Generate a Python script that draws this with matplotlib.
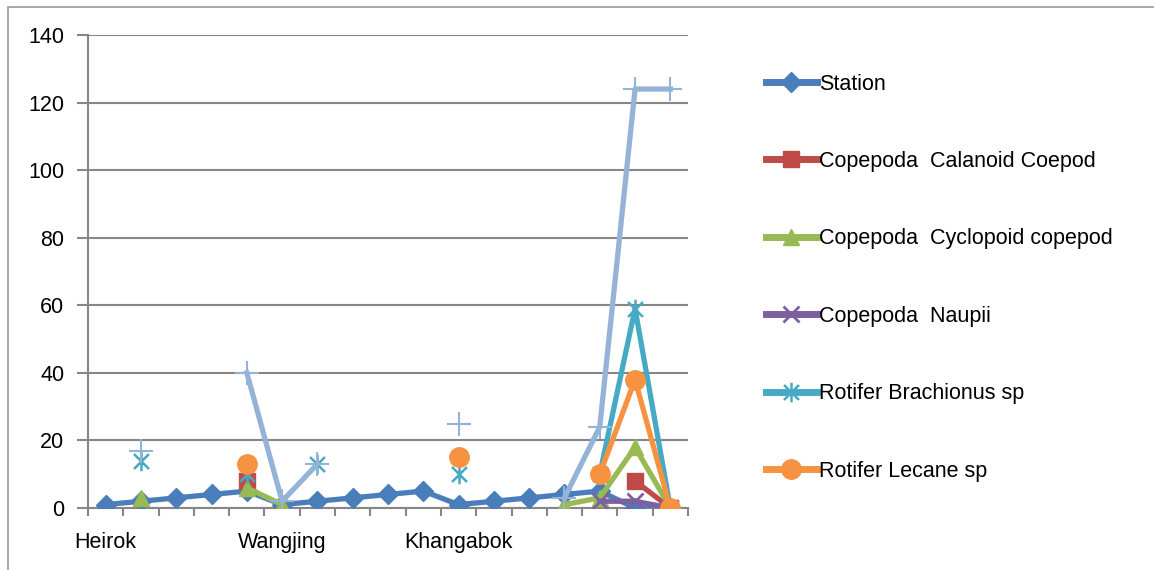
import numpy as np
import matplotlib
matplotlib.use("Agg")
import matplotlib.pyplot as plt
from matplotlib.patches import Rectangle
from matplotlib.path import Path

nan = np.nan

# 17 sampling points, only three named on the axis
positions = list(range(17))
tick_labels = ["Heirok", "", "", "", "", "Wangjing", "", "", "", "",
               "Khangabok", "", "", "", "", "", ""]

station = [1, 2, 3, 4, 5, 1, 2, 3, 4, 5, 1, 2, 3, 4, 5, 0, 0]
calanoid = [nan, nan, nan, nan, 8, nan, nan, nan, nan, nan, nan, nan, nan, nan, nan, 8, 0]
cyclopoid = [nan, 3, nan, nan, 6, 1, nan, nan, nan, nan, nan, nan, nan, 1, 3, 18, 0]
naupii = [nan, nan, nan, nan, nan, nan, nan, nan, nan, nan, nan, nan, nan, nan, 2, 2, 0]
brachionus = [nan, 14, nan, nan, 10, nan, 13, nan, nan, nan, 10, nan, nan, nan, 10, 59, 0]
lecane = [nan, nan, nan, nan, 13, nan, nan, nan, nan, nan, 15, nan, nan, nan, 10, 38, 0]
# seventh series, its legend entry is cut off in the original
series7 = [nan, 17, nan, nan, 40, 2, 13, nan, nan, nan, 25, nan, nan, 3, 24, 124, 124]

plt.rcParams['font.family'] = ['Liberation Sans', 'DejaVu Sans']

# excel-like star: an x with a vertical bar
star = Path([(-1, -1), (1, 1), (-1, 1), (1, -1), (0, -1.3), (0, 1.3)],
            [Path.MOVETO, Path.LINETO, Path.MOVETO, Path.LINETO, Path.MOVETO, Path.LINETO])

fig = plt.figure(figsize=(11.54, 5.70), dpi=100)
ax = fig.add_axes([88/1154, 1-508/570, 600/1154, (508-35)/570])

lw = 3.8
ax.plot(positions, station, color='#4A7EBB', lw=lw, marker='D', ms=10, label='Station', zorder=3)
ax.plot(positions, calanoid, color='#BE4B48', lw=lw, marker='s', ms=11,
        label='Copepoda  Calanoid Coepod', zorder=3)
ax.plot(positions, cyclopoid, color='#98B954', lw=lw, marker='^', ms=12,
        label='Copepoda  Cyclopoid copepod', zorder=3)
ax.plot(positions, naupii, color='#7D60A0', lw=lw, marker='x', ms=11, mew=2,
        label='Copepoda  Naupii', zorder=3)
ax.plot(positions, brachionus, color='#46AAC5', lw=lw, marker=star, ms=14, mew=1.8,
        label='Rotifer Brachionus sp', zorder=3)
ax.plot(positions, lecane, color='#F69240', lw=lw, marker='o', ms=14,
        label='Rotifer Lecane sp', zorder=3)
ax.plot(positions, series7, color='#95B3D7', lw=lw, marker='+', ms=17, mew=1.5,
        label='_series7', zorder=3)

ax.set_xlim(-0.5, 16.5)
ax.set_ylim(0, 140)
ax.set_yticks(range(0, 141, 20))
ax.yaxis.grid(True, color='#868686', lw=1.5)
ax.set_axisbelow(True)

ax.set_xticks(positions)
ax.set_xticklabels(tick_labels)
ax.set_xticks(np.arange(-0.5, 17, 1), minor=True)
ax.tick_params(axis='x', which='major', length=0, pad=17, labelsize=15.5)
ax.tick_params(axis='x', which='minor', length=6, width=1.5, color='#868686', direction='out')
ax.tick_params(axis='y', length=8, width=1.5, color='#868686', pad=9, labelsize=15.5)

for s in ['top', 'right']:
    ax.spines[s].set_visible(False)
for s in ['left', 'bottom']:
    ax.spines[s].set_color('#868686')
    ax.spines[s].set_linewidth(1.5)

leg = fig.legend(loc='upper left', bbox_to_anchor=(757/1154, 1-65/570), frameon=False,
                 fontsize=15.5, handlelength=2.4, handletextpad=0.1, labelspacing=2.62,
                 borderaxespad=0)
for h in leg.get_lines():
    h.set_linewidth(5)

fig.patches.append(Rectangle((8/1154, -0.5), 2, 1.5 - 7/570, transform=fig.transFigure,
                             fill=False, ec='#9a9a9a', lw=1.2))

fig.savefig('out.png', dpi=100)
